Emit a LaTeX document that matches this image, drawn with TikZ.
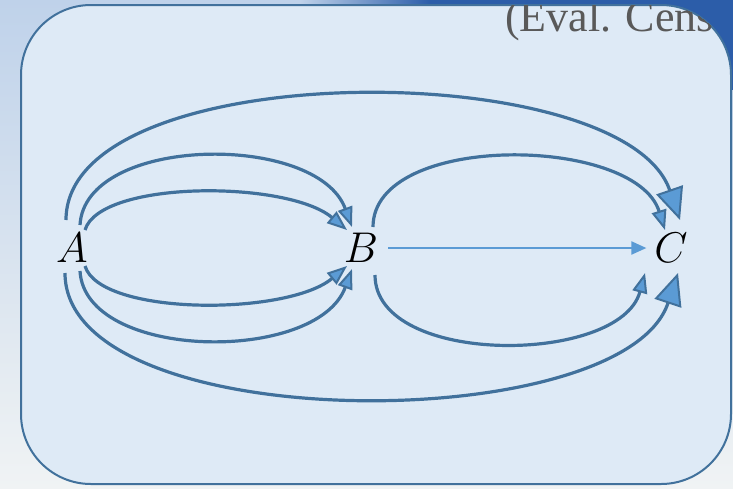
\RequirePackage{fix-cm}
\documentclass[tikz,border=0pt]{standalone}
\usepackage{fontspec}
\usetikzlibrary{arrows.meta}
\newfontfamily\slideserif{Liberation Serif}
\definecolor{pathBlue}{HTML}{41719C}
\definecolor{tipBlue}{HTML}{5B9BD5}
\definecolor{panelFill}{HTML}{DEEAF6}
\definecolor{slideTop}{HTML}{BFD2EA}
\definecolor{slideBottom}{HTML}{F0F3F4}
\definecolor{headerBlue}{HTML}{2C5DA9}
\definecolor{titleGray}{HTML}{595959}
\tikzset{
  path diagram/.style={
    x=1pt, y=-1pt,
    every node/.style={font=\fontsize{43}{50}\selectfont,
      text=black, inner sep=0pt, outer sep=0pt}
  },
  path arc/.style={draw=pathBlue, line width=3.2pt,
    -{Triangle[length=20pt,width=15pt,line width=2pt,fill=tipBlue]}},
  path arc big/.style={draw=pathBlue, line width=3.2pt,
    -{Triangle[length=32pt,width=28pt,line width=2pt,fill=tipBlue]}},
  path direct/.style={draw=tipBlue, line width=2pt,
    -{Triangle[length=15pt,width=13pt]}}
}

\begin{document}
\begin{tikzpicture}[path diagram]
    \useasboundingbox (0,0) rectangle (733,488);
    % slide behind the panel
    \shade[top color=slideTop, bottom color=slideBottom] (0,0) rectangle (733,488);
    \shade[left color=slideTop, right color=headerBlue] (300,0) rectangle (430,90);
    \fill[headerBlue] (430,0) rectangle (733,90);
    \filldraw[fill=panelFill, draw=pathBlue, line width=2pt, rounded corners=70pt]
      (21,5) rectangle (731,484);
    \begin{scope}
      \clip[rounded corners=70pt] (21,5) rectangle (731,484);
      \node[anchor=base west, font=\slideserif\fontsize{44}{50}\selectfont,
        text=titleGray] (title) at (505,31) {(Eval. Censa};
    \end{scope}
    \node (A) at (72,248) {$A$};
    \node (B) at (361,248) {$B$};
    \node (C) at (671,248) {$C$};
    % A to C, round the outside
    \draw[path arc big] ([shift={(-6,-28)}]A.center)
      .. controls +(0,-165) and +(-57,-165) .. ([shift={(9,-28)}]C.center);
    \draw[path arc big] ([shift={(-7,25)}]A.center)
      .. controls +(0,165) and +(-55,165) .. ([shift={(7,25)}]C.center);
    % A to B
    \draw[path arc] ([shift={(8,-23)}]A.center)
      .. controls +(5,-90) and +(-35,-95) .. ([shift={(-9,-21)}]B.center);
    \draw[path arc] ([shift={(13,-18)}]A.center)
      .. controls +(15,-50) and +(-60,-50) .. ([shift={(-14,-18)}]B.center);
    \draw[path arc] ([shift={(13,18)}]A.center)
      .. controls +(15,50) and +(-60,50) .. ([shift={(-14,18)}]B.center);
    \draw[path arc] ([shift={(8,23)}]A.center)
      .. controls +(5,90) and +(-35,95) .. ([shift={(-9,21)}]B.center);
    % B to C
    \draw[path arc] ([shift={(12,-21)}]B.center)
      .. controls +(0,-95) and +(-30,-95) .. ([shift={(-6,-18)}]C.center);
    \draw[path arc] ([shift={(14,27)}]B.center)
      .. controls +(0,92) and +(-25,92) .. ([shift={(-26,25)}]C.center);
    \draw[path direct] ([xshift=10pt]B.east) -- ([xshift=-8pt]C.west);
\end{tikzpicture}
\end{document}
